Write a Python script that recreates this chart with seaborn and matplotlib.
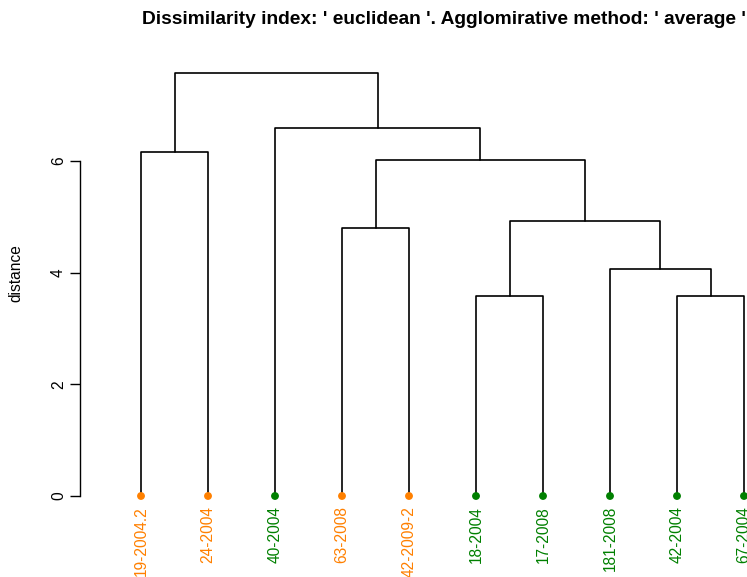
import numpy as np
import pandas as pd
import matplotlib
matplotlib.use("Agg")
import matplotlib.pyplot as plt
import seaborn as sns

# ---- data ----
leaf_labels = ["19-2004.2", "24-2004", "40-2004", "63-2008", "42-2009-2",
               "18-2004", "17-2008", "181-2008", "42-2004", "67-2004"]
leaf_groups = ["orange", "orange", "green", "orange", "orange",
               "green", "green", "green", "green", "green"]
# R-style merge matrix: negative = leaf (1-based), positive = earlier merge
merge_left = [-1, -9, -6, -8, 3, -4, 6, -3, 1]
merge_right = [-2, -10, -7, 2, 4, -5, 5, 7, 8]
merge_height = [6.16, 3.58, 3.58, 4.07, 4.93, 4.80, 6.02, 6.59, 7.58]
y_ticks = [0, 2, 4, 6]
title = "Dissimilarity index: ' euclidean '. Agglomirative method: ' average '"
ylabel = "distance"

palette = {"orange": "#FF8000", "green": "#008000"}

# ---- layout (pixel mapping) ----
W, H = 747, 577
px_leaf1, px_step = 141, 67
py_zero, py_per_unit = 496, 55.83

def xd(px):
    return 1 + (px - px_leaf1) / px_step

def yd(py):
    return (py_zero - py) / py_per_unit

sns.set_theme(style="white")
plt.rcParams["font.family"] = ["Liberation Sans", "DejaVu Sans"]
plt.rcParams["text.color"] = "black"
plt.rcParams["ytick.color"] = "black"

fig = plt.figure(figsize=(W / 100, H / 100), dpi=100)
ax = fig.add_axes([0, 0, 1, 1])
ax.set_facecolor("white")

# ---- build dendrogram segments ----
n = len(leaf_labels)
pos = {}
hgt = {}
def node_xy(k):
    if k < 0:
        return float(-k), 0.0
    return pos[k], hgt[k]

rows = []
for i, (l, r, h) in enumerate(zip(merge_left, merge_right, merge_height), start=1):
    xl, hl = node_xy(l)
    xr, hr = node_xy(r)
    pos[i] = (xl + xr) / 2
    hgt[i] = h
    for j, (xx, yy) in enumerate([(xl, hl), (xl, h), (xr, h), (xr, hr)]):
        rows.append({"seg": i, "order": j, "x": xx, "y": yy})
seg_df = pd.DataFrame(rows)

sns.lineplot(data=seg_df, x="x", y="y", units="seg", estimator=None, sort=False,
             color="black", linewidth=1.2, ax=ax, legend=False)

leaf_df = pd.DataFrame({"x": np.arange(1, n + 1, dtype=float), "y": 0.0,
                        "group": leaf_groups, "label": leaf_labels})
sns.scatterplot(data=leaf_df, x="x", y="y", hue="group", palette=palette,
                s=32, edgecolor="none", ax=ax, legend=False, zorder=3)

for _, r in leaf_df.iterrows():
    ax.text(r["x"], yd(506), r["label"], rotation=90, ha="center", va="top",
            color=palette[r["group"]], fontsize=11.2, clip_on=False)

ax.set_xlim(xd(0), xd(W))
ax.set_ylim(yd(H), yd(0))

for s in ["top", "right", "bottom"]:
    ax.spines[s].set_visible(False)
ax.spines["left"].set_position(("data", xd(80)))
ax.spines["left"].set_bounds(0, 6)
ax.spines["left"].set_color("black")
ax.spines["left"].set_linewidth(1.0)
ax.set_xticks([])
ax.set_yticks(y_ticks)
ax.set_yticklabels([str(t) for t in y_ticks], rotation=90, va="center",
                   fontsize=11.2, color="black")
ax.tick_params(axis="y", left=True, length=7, width=1.0, color="black", pad=3)
ax.set_xlabel("")
ax.set_ylabel("")
ax.text(xd(16), 4.0, ylabel, rotation=90, ha="center", va="center",
        fontsize=11.2, color="black")

ax.text(xd(142), yd(20), title, ha="left", va="center", fontsize=13.75,
        fontweight="bold", color="black", clip_on=False)

fig.savefig("out.png", dpi=100)
